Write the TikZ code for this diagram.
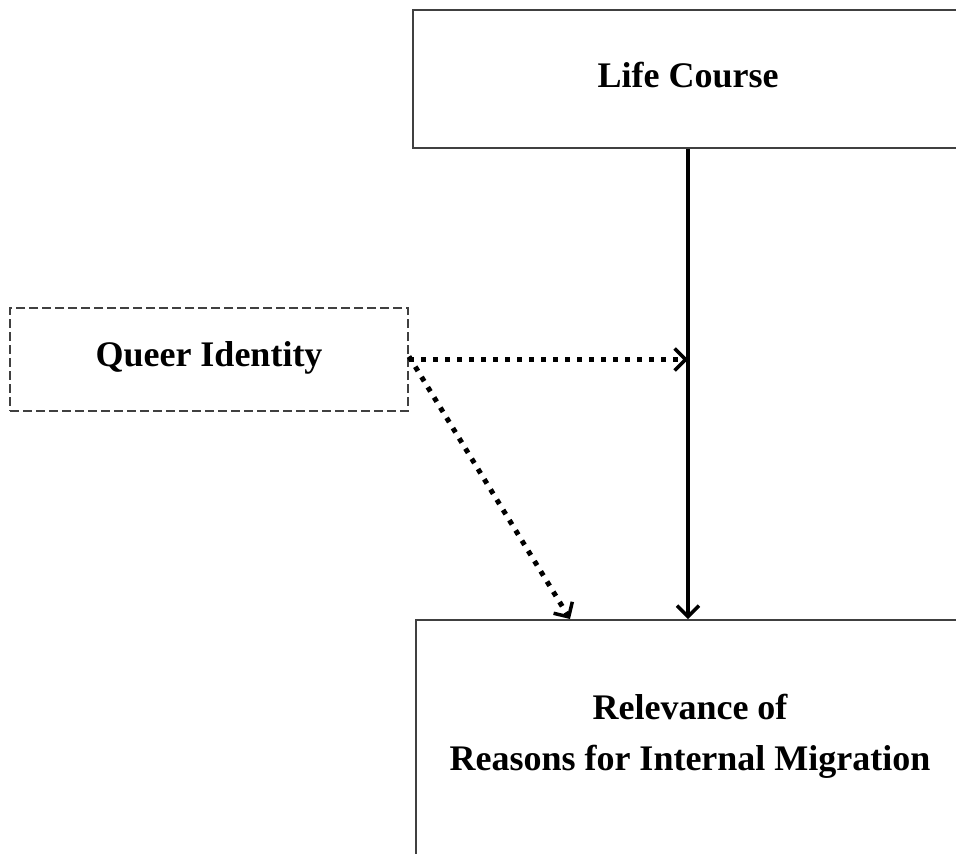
\documentclass[tikz,border=0pt]{standalone}
\usepackage{fontspec}
\setmainfont{Liberation Serif}
\usetikzlibrary{arrows.meta}
\begin{document}
\begin{tikzpicture}[x=1pt,y=-1pt,
  box/.style={draw=black!75, line width=2pt, fill=white, inner sep=0pt},
  dbox/.style={box, dash pattern=on 9pt off 4pt},
  lbl/.style={font=\fontsize{36}{51}\selectfont\bfseries, align=center},
  solidarrow/.style={line width=3.5pt, -{Straight Barb[length=11pt,width=22pt,line width=3.5pt]}},
  dotarrow/.style={line width=5pt, dash pattern=on 5pt off 7pt, -{Straight Barb[length=11pt,width=22pt,line width=3.5pt]}}
]
\useasboundingbox (0,0) rectangle (956,854);
\clip (0,0) rectangle (956,854);
\node[box, minimum width=550pt, minimum height=138pt] (lc) at (688,79) {};
\node[lbl] (lct) at (688,75) {Life Course};
\node[dbox, minimum width=398pt, minimum height=103pt] (qi) at (209,359.5) {};
\node[lbl] (qit) at (209,358) {Queer Identity};
\node[box, minimum width=547pt, minimum height=300pt, anchor=north west] (rel) at (415,619) {};
\node[lbl] (relt) at (690,736) {Relevance of\\Reasons for Internal Migration};
\coordinate (mid) at (lc.south |- qi.east);
\coordinate (dtip) at (570,619);
\draw[solidarrow] (lc.south) -- (lc.south |- rel.north);
\draw[dotarrow] (qi.east) -- (mid);
\draw[dotarrow] ([yshift=3pt]qi.east) -- (dtip);
\end{tikzpicture}
\end{document}
